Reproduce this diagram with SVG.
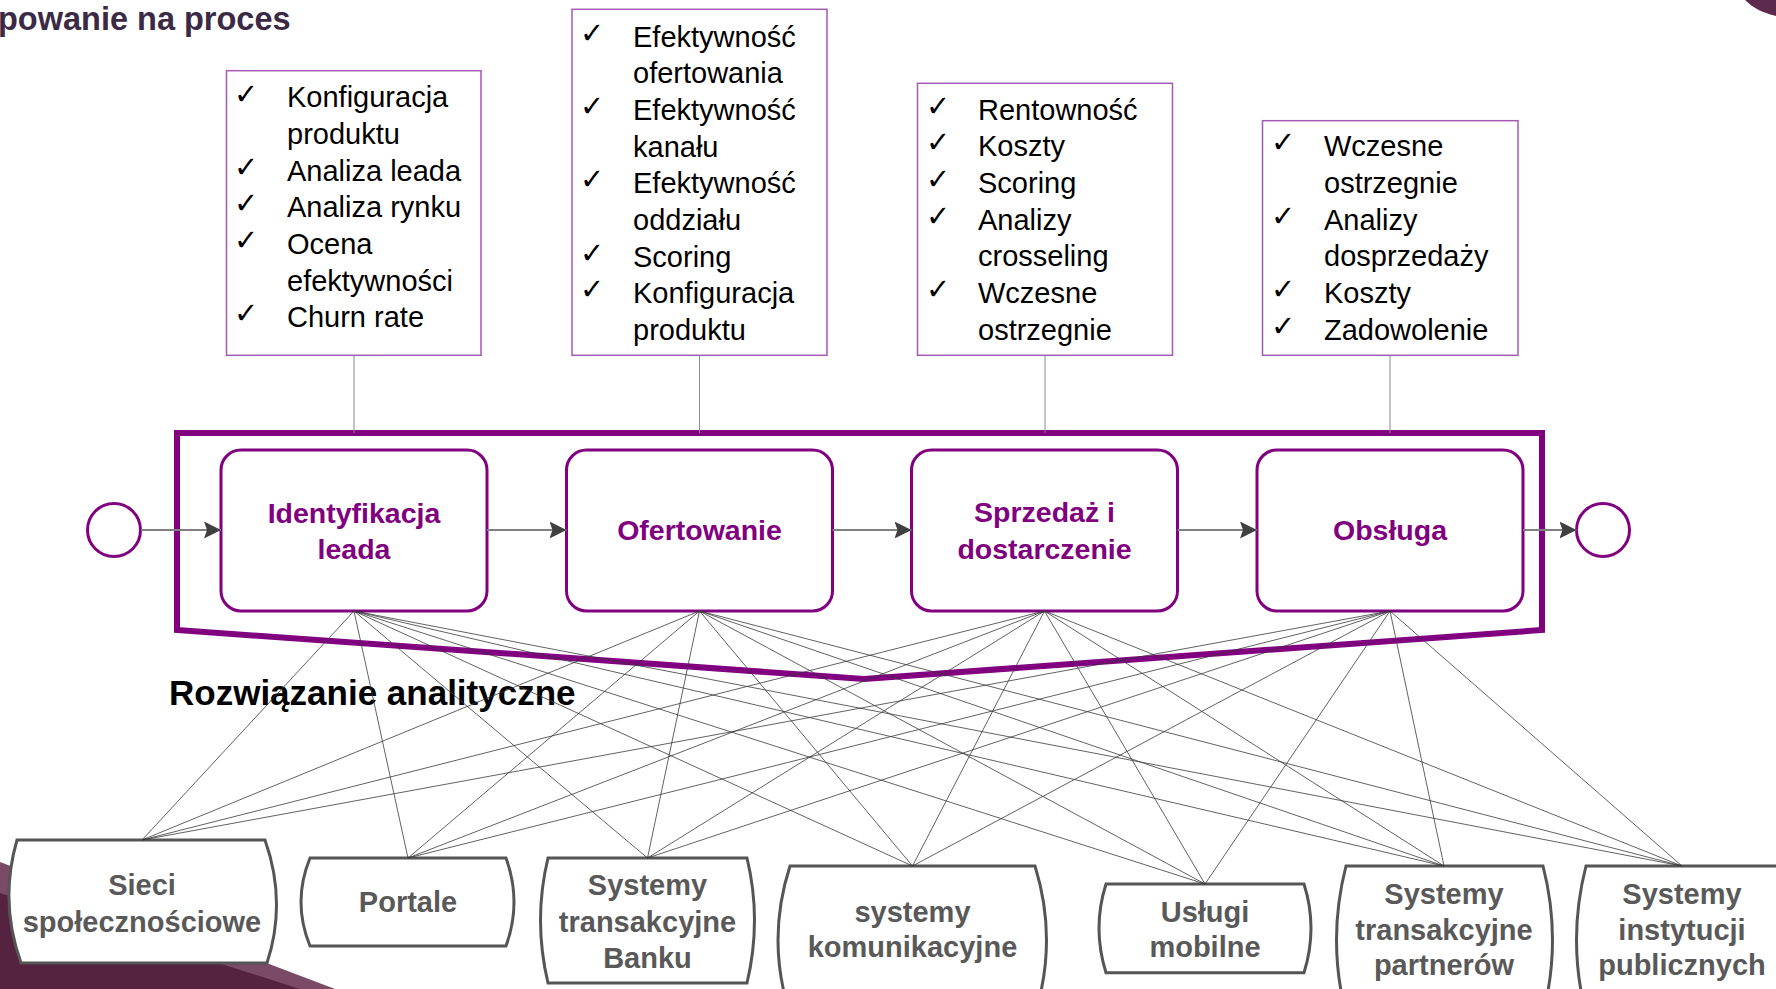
<svg xmlns="http://www.w3.org/2000/svg" width="1776" height="989" viewBox="0 0 1776 989">
<defs>
<style>
.ttl{font-family:"Liberation Sans",Arial,sans-serif;font-weight:bold;font-size:32.5px;fill:#3b2a45}
.kbox{fill:#fff;stroke:#a459b4;stroke-width:1.5}
.chk{font-family:"DejaVu Sans",sans-serif;font-size:29px;font-weight:bold;fill:#000}
.kt{font-family:"Liberation Sans",Arial,sans-serif;font-size:29px;fill:#000}
.vl{stroke:#8a8a8a;stroke-width:1}
.frame{fill:none;stroke:#800080;stroke-width:6;stroke-linejoin:miter}
.pbox{fill:#fff;stroke:#800080;stroke-width:3}
.pt{font-family:"Liberation Sans",Arial,sans-serif;font-weight:bold;font-size:28.5px;fill:#800080;text-anchor:middle}
.circ{fill:#fff;stroke:#800080;stroke-width:3}
.arr{stroke:#808080;stroke-width:2;fill:none;marker-end:url(#ah)}
.cn{stroke:#3a3a3a;stroke-width:0.8;fill:none}
.sys{fill:#fff;stroke:#555;stroke-width:3}
.st{font-family:"Liberation Sans",Arial,sans-serif;font-weight:bold;font-size:29px;fill:#595959;text-anchor:middle}
.sub{font-family:"Liberation Sans",Arial,sans-serif;font-weight:bold;font-size:35px;fill:#000}
</style>
<marker id="ah" markerUnits="userSpaceOnUse" markerWidth="18" markerHeight="18" refX="17" refY="8.5" orient="auto">
<path d="M0,0 L17,8.5 L0,17 L3,8.5 Z" fill="#404040"/>
</marker>
</defs>
<rect width="1776" height="989" fill="#fff"/>
<g id="decor">
<path d="M0,862 L335,989 L0,989 Z" fill="#7b4a66"/>
<path d="M0,893 L300,989 L0,989 Z" fill="#55223f"/>
<path d="M1745,0 C1753,8 1763,13 1776,16 L1776,0 Z" fill="#5b2a4d"/>
</g>
<text class="ttl" x="-2" y="30">powanie na proces</text>

<g id="kpi1">
<rect class="kbox" x="226.5" y="70.7" width="254.5" height="284.6"/>
<text class="chk" x="234" y="104">✓</text><text class="kt" x="287" y="107.3">Konfiguracja</text>
<text class="kt" x="287" y="144">produktu</text>
<text class="chk" x="234" y="177">✓</text><text class="kt" x="287" y="180.7">Analiza leada</text>
<text class="chk" x="234" y="213">✓</text><text class="kt" x="287" y="216.7">Analiza rynku</text>
<text class="chk" x="234" y="250">✓</text><text class="kt" x="287" y="254">Ocena</text>
<text class="kt" x="287" y="290.7">efektywności</text>
<text class="chk" x="234" y="323">✓</text><text class="kt" x="287" y="327.3">Churn rate</text>
</g>
<g id="kpi2">
<rect class="kbox" x="572" y="9.3" width="255" height="346"/>
<text class="chk" x="580" y="43">✓</text><text class="kt" x="633" y="46.7">Efektywność</text>
<text class="kt" x="633" y="83.3">ofertowania</text>
<text class="chk" x="580" y="116">✓</text><text class="kt" x="633" y="120">Efektywność</text>
<text class="kt" x="633" y="156.7">kanału</text>
<text class="chk" x="580" y="189">✓</text><text class="kt" x="633" y="193.3">Efektywność</text>
<text class="kt" x="633" y="230">oddziału</text>
<text class="chk" x="580" y="263">✓</text><text class="kt" x="633" y="266.7">Scoring</text>
<text class="chk" x="580" y="299">✓</text><text class="kt" x="633" y="303.3">Konfiguracja</text>
<text class="kt" x="633" y="340">produktu</text>
</g>
<g id="kpi3">
<rect class="kbox" x="917.5" y="83.3" width="255" height="272"/>
<text class="chk" x="926" y="116">✓</text><text class="kt" x="978" y="119.5">Rentowność</text>
<text class="chk" x="926" y="152">✓</text><text class="kt" x="978" y="156.2">Koszty</text>
<text class="chk" x="926" y="189">✓</text><text class="kt" x="978" y="192.9">Scoring</text>
<text class="chk" x="926" y="226">✓</text><text class="kt" x="978" y="229.6">Analizy</text>
<text class="kt" x="978" y="266.3">crosseling</text>
<text class="chk" x="926" y="299">✓</text><text class="kt" x="978" y="303">Wczesne</text>
<text class="kt" x="978" y="339.7">ostrzegnie</text>
</g>
<g id="kpi4">
<rect class="kbox" x="1262.5" y="120.7" width="255.5" height="234.6"/>
<text class="chk" x="1271" y="152">✓</text><text class="kt" x="1324" y="156.2">Wczesne</text>
<text class="kt" x="1324" y="192.9">ostrzegnie</text>
<text class="chk" x="1271" y="226">✓</text><text class="kt" x="1324" y="229.6">Analizy</text>
<text class="kt" x="1324" y="266.3">dosprzedaży</text>
<text class="chk" x="1271" y="299">✓</text><text class="kt" x="1324" y="303">Koszty</text>
<text class="chk" x="1271" y="336">✓</text><text class="kt" x="1324" y="339.7">Zadowolenie</text>
</g>

<g id="frame">
<path class="frame" d="M177,433 L1542,433 L1542,630 L864,679 L177,630 Z"/>
</g>

<g id="start"><ellipse class="circ" cx="114" cy="530" rx="26.5" ry="26.5"/></g>
<g id="end"><ellipse class="circ" cx="1603" cy="530" rx="26.5" ry="26.5"/></g>

<g id="p1">
<rect class="pbox" x="221" y="450" width="266" height="161" rx="20"/>
<text class="pt" x="354" y="522.7">Identyfikacja</text>
<text class="pt" x="354" y="559.3">leada</text>
</g>
<g id="p2">
<rect class="pbox" x="566.5" y="450" width="266" height="161" rx="20"/>
<text class="pt" x="699.5" y="540">Ofertowanie</text>
</g>
<g id="p3">
<rect class="pbox" x="911.5" y="450" width="266" height="161" rx="20"/>
<text class="pt" x="1044.5" y="522">Sprzedaż i</text>
<text class="pt" x="1044.5" y="559.3">dostarczenie</text>
</g>
<g id="p4">
<rect class="pbox" x="1257" y="450" width="266" height="161" rx="20"/>
<text class="pt" x="1390" y="539.5">Obsługa</text>
</g>

<text class="sub" x="169" y="705">Rozwiązanie analityczne</text>

<g id="n1">
<path class="sys" d="M17,840 L265,840 Q287,902 267,963 L21,963 Q-1,902 17,840 Z"/>
<text class="st" x="142" y="895">Sieci</text>
<text class="st" x="142" y="931.7">społecznościowe</text>
</g>
<g id="n2">
<path class="sys" d="M310,858 L506,858 Q522,902 506,946 L310,946 Q292,902 310,858 Z"/>
<text class="st" x="408" y="911.7">Portale</text>
</g>
<g id="n3">
<path class="sys" d="M548,858 L747,858 Q762,920 747,983 L548,983 Q533,920 548,858 Z"/>
<text class="st" x="647.5" y="895">Systemy</text>
<text class="st" x="647.5" y="931.7">transakcyjne</text>
<text class="st" x="647.5" y="968.4">Banku</text>
</g>
<g id="n4">
<path class="sys" d="M790,866 L1035,866 Q1058,940 1035,1014 L790,1014 Q766,940 790,866 Z"/>
<text class="st" x="912.5" y="921.7">systemy</text>
<text class="st" x="912.5" y="956.7">komunikacyjne</text>
</g>
<g id="n5">
<path class="sys" d="M1106,884 L1304,884 Q1318,928 1304,972.7 L1106,972.7 Q1092,928 1106,884 Z"/>
<text class="st" x="1205" y="921.7">Usługi</text>
<text class="st" x="1205" y="956.7">mobilne</text>
</g>
<g id="n6">
<path class="sys" d="M1346,866 L1543,866 Q1562,940 1543,1014 L1346,1014 Q1327,940 1346,866 Z"/>
<text class="st" x="1444" y="904">Systemy</text>
<text class="st" x="1444" y="940">transakcyjne</text>
<text class="st" x="1444" y="975">partnerów</text>
</g>
<g id="n7">
<path class="sys" d="M1586,866 L1783,866 Q1802,940 1783,1014 L1586,1014 Q1567,940 1586,866 Z"/>
<text class="st" x="1682" y="904">Systemy</text>
<text class="st" x="1682" y="940">instytucji</text>
<text class="st" x="1682" y="975">publicznych</text>
</g>

<g id="connectors">
<line class="vl" x1="354" y1="355.3" x2="354" y2="433"/>
<line class="vl" x1="699.5" y1="355.3" x2="699.5" y2="433"/>
<line class="vl" x1="1045" y1="355.3" x2="1045" y2="433" stroke="#a459b4"/>
<line class="vl" x1="1390" y1="355.3" x2="1390" y2="433" stroke="#555"/>
<line class="arr" x1="141" y1="530" x2="221" y2="530"/>
<line class="arr" x1="487" y1="530" x2="566.5" y2="530"/>
<line class="arr" x1="832.5" y1="530" x2="911.5" y2="530"/>
<line class="arr" x1="1177.5" y1="530" x2="1257" y2="530"/>
<line class="arr" x1="1523" y1="530" x2="1576.5" y2="530"/>
<g class="cn">
<path d="M354,611 L142,840 M354,611 L408,858 M354,611 L647.5,858 M354,611 L912.5,866 M354,611 L1205,884 M354,611 L1444,866 M354,611 L1682,866"/>
<path d="M699.5,611 L142,840 M699.5,611 L408,858 M699.5,611 L647.5,858 M699.5,611 L912.5,866 M699.5,611 L1205,884 M699.5,611 L1444,866 M699.5,611 L1682,866"/>
<path d="M1044.5,611 L142,840 M1044.5,611 L408,858 M1044.5,611 L647.5,858 M1044.5,611 L912.5,866 M1044.5,611 L1205,884 M1044.5,611 L1444,866 M1044.5,611 L1682,866"/>
<path d="M1390,611 L142,840 M1390,611 L408,858 M1390,611 L647.5,858 M1390,611 L912.5,866 M1390,611 L1205,884 M1390,611 L1444,866 M1390,611 L1682,866"/>
</g>
</g>
</svg>
